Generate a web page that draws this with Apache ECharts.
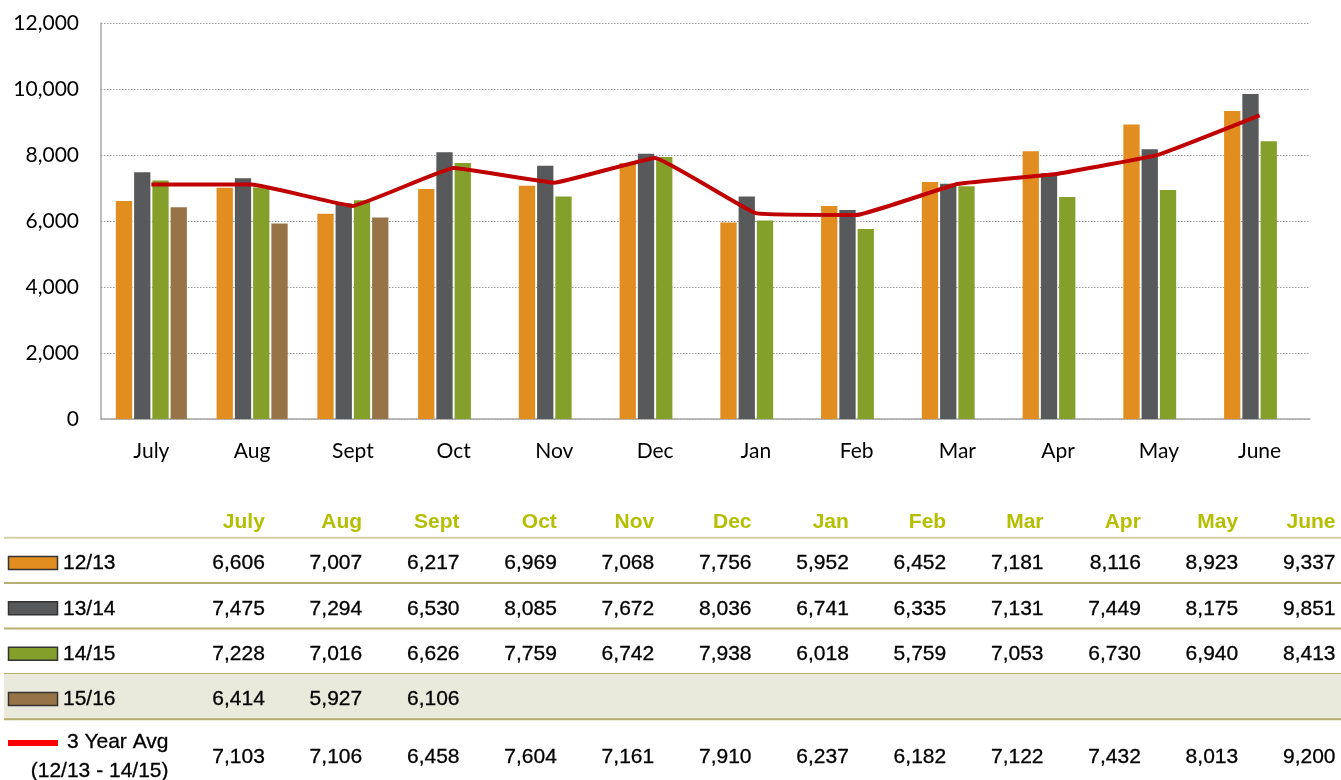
<!DOCTYPE html>
<html>
<head>
<meta charset="utf-8">
<script src="https://cdn.jsdelivr.net/npm/echarts@6/dist/echarts.min.js"></script>
<style>
html,body{margin:0;padding:0;background:#fff;}
#chart{width:1341px;height:780px;}
</style>
</head>
<body>
<div id="chart"></div>
<script>
// ---- data ----
const months = ['July','Aug','Sept','Oct','Nov','Dec','Jan','Feb','Mar','Apr','May','June'];
const yTicks = [0, 2000, 4000, 6000, 8000, 10000, 12000];
const s1213 = [6606,7007,6217,6969,7068,7756,5952,6452,7181,8116,8923,9337];
const s1314 = [7475,7294,6530,8085,7672,8036,6741,6335,7131,7449,8175,9851];
const s1415 = [7228,7016,6626,7759,6742,7938,6018,5759,7053,6730,6940,8413];
const s1516 = [6414,5927,6106,null,null,null,null,null,null,null,null,null];
const avg3  = [7103,7106,6458,7604,7161,7910,6237,6182,7122,7432,8013,9200];
const seriesNames = ['12/13','13/14','14/15','15/16'];
const avgNameLines = ['3 Year Avg','(12/13 - 14/15)'];
const tableRowKeys = ['header','12/13','13/14','14/15','15/16','avg'];

// ---- styles ----
const barColors = ['#e28d1f','#58595b','#84a02a','#977447'];
const lineColor = '#c00000';
const legendLineColor = '#ff0000';
const headerColor = '#b5be00';
const axisFont = 'Lato, "Open Sans", sans-serif';
const tableFont = '"Liberation Sans", Arial, Helvetica, sans-serif';

const barSeriesData = [s1213, s1314, s1415, s1516];
const tableValues = {'12/13': s1213, '13/14': s1314, '14/15': s1415, '15/16': s1516, 'avg': avg3};
const fmt = v => (v === null || v === undefined) ? '' : v.toLocaleString('en-US');

const chart = echarts.init(document.getElementById('chart'));

function renderTableRow(params, api) {
  const r = api.value(1);
  const key = tableRowKeys[r];
  const size = api.size([1, 1]);
  const bw = size[0], bh = size[1];
  const cy = api.coord([0, r])[1];
  const top = cy - bh / 2, bottom = cy + bh / 2;
  const W = api.getWidth();
  const gridLeft = params.coordSys.x;
  const children = [];

  if (key === '15/16') {
    children.push({type:'rect', shape:{x:4, y:top, width:W - 4, height:bh}, style:{fill:'#eaeadc'}});
  }
  if (key !== 'avg') {
    children.push({type:'line', shape:{x1:4, y1:bottom, x2:W, y2:bottom},
      style:{stroke: key === 'header' ? '#d2cfa8' : '#b6ae70', lineWidth: 2}});
  }

  if (key === 'header') {
    for (let i = 0; i < months.length; i++) {
      const x = api.coord([i, r])[0] + bw / 2 - 1;
      children.push({type:'text', style:{text: months[i], x: x, y: cy + 7,
        textAlign:'right', textVerticalAlign:'middle', fill: headerColor,
        font: 'bold 21px ' + tableFont}});
    }
  } else {
    const vals = tableValues[key];
    const vdy = key === 'avg' ? 15 : 3;
    for (let i = 0; i < months.length; i++) {
      const x = api.coord([i, r])[0] + bw / 2 - 1;
      children.push({type:'text', style:{text: fmt(vals[i]), x: x, y: cy + vdy,
        textAlign:'right', textVerticalAlign:'middle', fill: '#000',
        font: '21px ' + tableFont, stroke: '#000', lineWidth: 0.3}});
    }
    if (key === 'avg') {
      children.push({type:'rect', shape:{x:8, y:cy - 2, width:50, height:6}, style:{fill: legendLineColor}});
      children.push({type:'text', style:{text: avgNameLines[0], x: gridLeft, y: cy,
        textAlign:'right', textVerticalAlign:'middle', fill:'#000', font:'21px ' + tableFont, stroke:'#000', lineWidth:0.3}});
      children.push({type:'text', style:{text: avgNameLines[1], x: gridLeft, y: cy + 29,
        textAlign:'right', textVerticalAlign:'middle', fill:'#000', font:'21px ' + tableFont, stroke:'#000', lineWidth:0.3}});
    } else {
      const si = seriesNames.indexOf(key);
      children.push({type:'rect', shape:{x:8.5, y:cy - 4, width:49, height:13},
        style:{fill: barColors[si], stroke:'#333', lineWidth:1.5}});
      children.push({type:'text', style:{text: key, x: 63, y: cy + 3,
        textAlign:'left', textVerticalAlign:'middle', fill:'#000', font:'21px ' + tableFont, stroke:'#000', lineWidth:0.3}});
    }
  }
  return {type:'group', children: children};
}

const option = {
  animation: false,
  backgroundColor: '#fff',
  grid: [
    {left: 101, right: 31, top: 23, bottom: 361, containLabel: false},
    {left: 168.5, right: 4.5, top: 492.3, height: 272.4, containLabel: false}
  ],
  xAxis: [
    {
      type: 'category', data: months, gridIndex: 0,
      axisLine: {show: true, lineStyle: {color: '#a6a6a6', width: 1.5}},
      axisTick: {show: false},
      axisLabel: {color: '#000', fontFamily: axisFont, fontSize: 21, margin: 22}
    },
    {
      type: 'category', data: months, gridIndex: 1, show: false
    }
  ],
  yAxis: [
    {
      type: 'value', gridIndex: 0, min: yTicks[0], max: yTicks[yTicks.length - 1], interval: yTicks[1] - yTicks[0],
      axisLine: {show: true, lineStyle: {color: '#a6a6a6', width: 1.5}},
      axisTick: {show: false},
      axisLabel: {color: '#000', fontFamily: axisFont, fontSize: 21, margin: 22,
        formatter: v => v.toLocaleString('en-US')},
      splitLine: {show: true, lineStyle: {color: '#9a9a9a', type: [1.5, 1.5], width: 1}}
    },
    {
      type: 'category', data: tableRowKeys, gridIndex: 1, inverse: true, show: false
    }
  ],
  series: [
    ...barSeriesData.map((d, i) => ({
      type: 'bar', name: seriesNames[i], data: d, xAxisIndex: 0, yAxisIndex: 0,
      barWidth: 16.3, barGap: '12%',
      itemStyle: {color: barColors[i]}
    })),
    {
      type: 'line', name: avgNameLines[0], data: avg3, xAxisIndex: 0, yAxisIndex: 0,
      smooth: 0.08, showSymbol: false, symbol: 'none', z: 5,
      lineStyle: {color: lineColor, width: 4}
    },
    {
      type: 'custom', xAxisIndex: 1, yAxisIndex: 1,
      data: tableRowKeys.map((k, i) => [0, i]),
      renderItem: renderTableRow, silent: true
    }
  ]
};
chart.setOption(option);
</script>
</body>
</html>
